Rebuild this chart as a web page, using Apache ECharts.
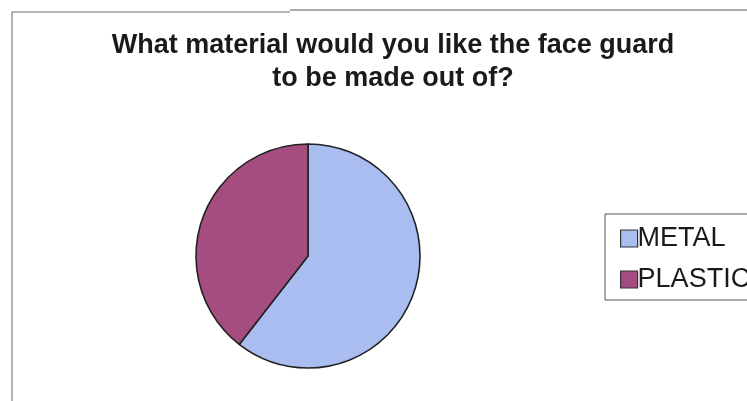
<!DOCTYPE html>
<html><head><meta charset="utf-8">
<script src="https://cdn.jsdelivr.net/npm/echarts@6/dist/echarts.min.js"></script>
<style>html,body{margin:0;padding:0;background:#fff}#c{width:747px;height:401px}</style>
</head><body><div id="c"></div>
<script>
const categories = ["METAL", "PLASTIC"];
const values = [23, 15];
const colors = ["#A9BDF0", "#A54C80"];
const titleText = "What material would you like the face guard\nto be made out of?";

const chart = echarts.init(document.getElementById('c'), null, {renderer: 'canvas'});
chart.setOption({
  animation: false,
  backgroundColor: '#ffffff',
  title: {
    text: titleText,
    left: 388, top: 24, textAlign: 'center',
    textStyle: {fontFamily: 'Liberation Sans, Arial, sans-serif', fontWeight: 'bold', fontSize: 27, color: '#1a1a1a', lineHeight: 33}
  },
  graphic: [
    {type: 'polyline', shape: {points: [[12, 401], [12, 12], [290, 12]]}, style: {fill: 'none', stroke: '#666', lineWidth: 1}, silent: true},
    {type: 'line', shape: {x1: 290, y1: 10, x2: 747, y2: 10}, style: {stroke: '#555', lineWidth: 1}, silent: true},
    {type: 'rect', shape: {x: 605, y: 214, width: 200, height: 86}, style: {fill: '#fff', stroke: '#555', lineWidth: 1}, silent: true, z: 0}
  ],
  legend: {
    orient: 'vertical', left: 615, top: 220,
    itemWidth: 17, itemHeight: 17, itemGap: 14,
    icon: 'rect',
    itemStyle: {borderColor: '#333', borderWidth: 1.2},
    textStyle: {fontFamily: 'Liberation Sans, Arial, sans-serif', fontSize: 27, lineHeight: 26, color: '#1a1a1a', padding: [0, 0, 0, -5]},
    data: categories, z: 5
  },
  series: [{
    type: 'pie', center: [308, 256], radius: 112, startAngle: 90, clockwise: true,
    label: {show: false}, labelLine: {show: false},
    itemStyle: {borderColor: '#222', borderWidth: 1.6},
    emphasis: {disabled: true},
    data: categories.map((n, i) => ({name: n, value: values[i], itemStyle: {color: colors[i]}}))
  }]
});
</script></body></html>
